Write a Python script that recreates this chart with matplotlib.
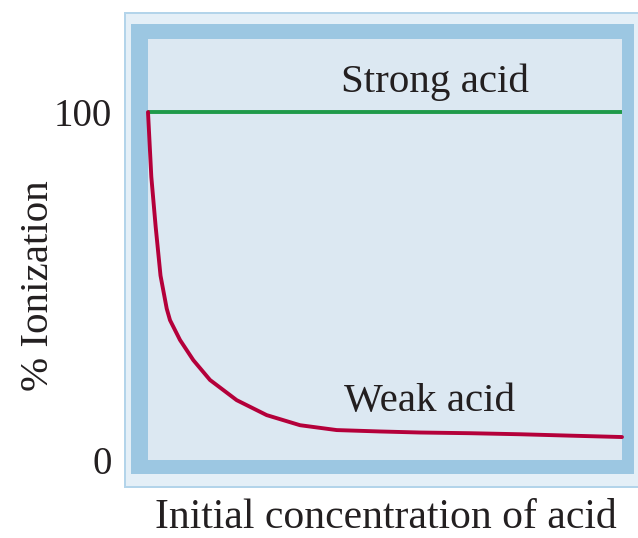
import matplotlib
matplotlib.use("Agg")
import matplotlib.pyplot as plt
from matplotlib.patches import Rectangle

# ---- data ----
strong_conc = [0.0, 1.0]
strong_ion = [100, 100]
weak_conc = [0.0, 0.007, 0.0162, 0.0264, 0.0395, 0.0464, 0.0675, 0.0956, 0.1308,
             0.1871, 0.2504, 0.3207, 0.3981, 0.4895, 0.5738, 0.6793, 0.7848,
             0.8903, 1.0]
weak_ion = [100, 81.4, 67, 53, 43.5, 40.2, 34.5, 28.7, 23, 17.2, 12.9, 10, 8.6,
            8.2, 7.9, 7.7, 7.4, 7.0, 6.6]
ytick_vals = [0, 100]
ytick_labels = ["0", "100"]

W, H = 638, 538
fig = plt.figure(figsize=(W / 100, H / 100), dpi=100)
fig.patch.set_facecolor("white")

def rect_px(x0, y0, x1, y1, color):
    r = Rectangle((x0 / W, 1 - y1 / H), (x1 - x0) / W, (y1 - y0) / H,
                  transform=fig.transFigure, facecolor=color, edgecolor="none",
                  zorder=-5)
    fig.patches.append(r)

# frame layers
rect_px(124, 12, 660, 488, "#b3d4ea")
rect_px(126, 14, 660, 486, "#e4eff7")
rect_px(131, 24, 634, 474, "#9cc7e2")

ax = fig.add_axes([148 / W, (H - 460) / H, 474 / W, 421 / H])
ax.set_zorder(5)
ax.set_facecolor("#dce8f2")
for s in ax.spines.values():
    s.set_visible(False)
ax.set_xlim(0, 1)
ax.set_ylim(0, 121)

ax.plot(strong_conc, strong_ion, color="#1f9a4a", lw=2.8, solid_capstyle="butt", clip_on=False)
ax.plot(weak_conc, weak_ion, color="#b4003a", lw=2.8, solid_joinstyle="round",
        solid_capstyle="round", clip_on=False)

serif = ["Liberation Serif", "DejaVu Serif"]
tc = "#231f20"
ax.set_xticks([])
ax.set_yticks(ytick_vals)
ax.set_yticklabels(ytick_labels, fontfamily=serif, fontsize=28, color=tc)
ax.tick_params(axis="y", length=0, pad=26)

ax.text(0.605, 0.898, "Strong acid", transform=ax.transAxes, ha="center", va="center",
        fontfamily=serif, fontsize=29.5, color=tc)
ax.text(0.595, 0.1385, "Weak acid", transform=ax.transAxes, ha="center", va="center",
        fontfamily=serif, fontsize=29.5, color=tc)

fig.text(39 / W, 1 - 286 / H, "% Ionization", rotation=90, ha="center", va="center",
         fontfamily=serif, fontsize=29.5, color=tc)
fig.text(386 / W, 1 / H, "Initial concentration of acid", ha="center", va="bottom",
         fontfamily=serif, fontsize=30, color=tc)

fig.savefig("out.png", dpi=100)
